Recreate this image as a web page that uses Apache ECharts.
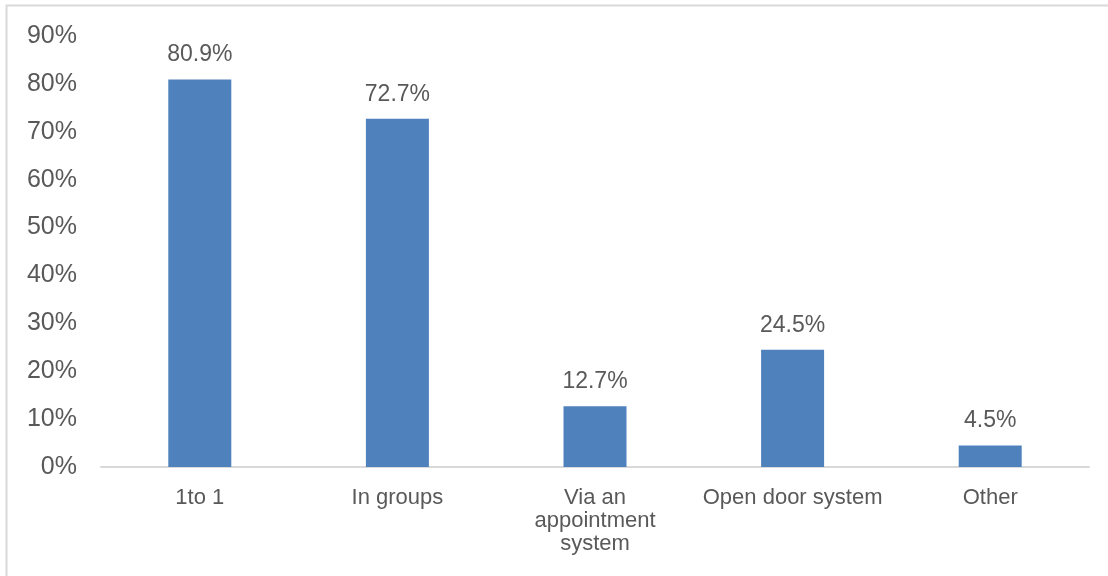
<!DOCTYPE html>
<html>
<head>
<meta charset="utf-8">
<script src="https://cdn.jsdelivr.net/npm/echarts@6/dist/echarts.min.js"></script>
<style>
  html, body { margin: 0; padding: 0; background: #fff; }
  #chart { width: 1108px; height: 576px; }
</style>
</head>
<body>
<div id="chart"></div>
<script>
const categories = ['1to 1', 'In groups', 'Via an\nappointment\nsystem', 'Open door system', 'Other'];
const values = [80.9, 72.7, 12.7, 24.5, 4.5];
const yTicks = { min: 0, max: 90, step: 10 };

const textColor = '#595959';
const font = '"Liberation Sans", Arial, sans-serif';

const chart = echarts.init(document.getElementById('chart'));
chart.setOption({
  animation: false,
  grid: { left: 101, right: 19, top: 36, bottom: 109 },
  graphic: [{
    type: 'rect',
    shape: { x: 6.5, y: 5.5, width: 1200, height: 700 },
    style: { fill: 'none', stroke: '#d9d9d9', lineWidth: 2 },
    silent: true
  }],
  xAxis: {
    type: 'category',
    data: categories,
    axisLine: { lineStyle: { color: '#d9d9d9', width: 2 } },
    axisTick: { show: false },
    axisLabel: {
      color: textColor, fontFamily: font, fontSize: 22,
      lineHeight: 23, margin: 19, interval: 0
    }
  },
  yAxis: {
    type: 'value',
    min: yTicks.min, max: yTicks.max, interval: yTicks.step,
    splitLine: { show: false },
    axisLine: { show: false },
    axisTick: { show: false },
    axisLabel: {
      color: textColor, fontFamily: font, fontSize: 25,
      margin: 24, formatter: '{value}%'
    }
  },
  series: [{
    type: 'bar',
    data: values,
    barWidth: 63,
    itemStyle: { color: '#4f81bd' },
    label: {
      show: true, position: 'top', distance: 13,
      color: textColor, fontFamily: font, fontSize: 23,
      formatter: p => p.value.toFixed(1) + '%'
    }
  }]
});
</script>
</body>
</html>
